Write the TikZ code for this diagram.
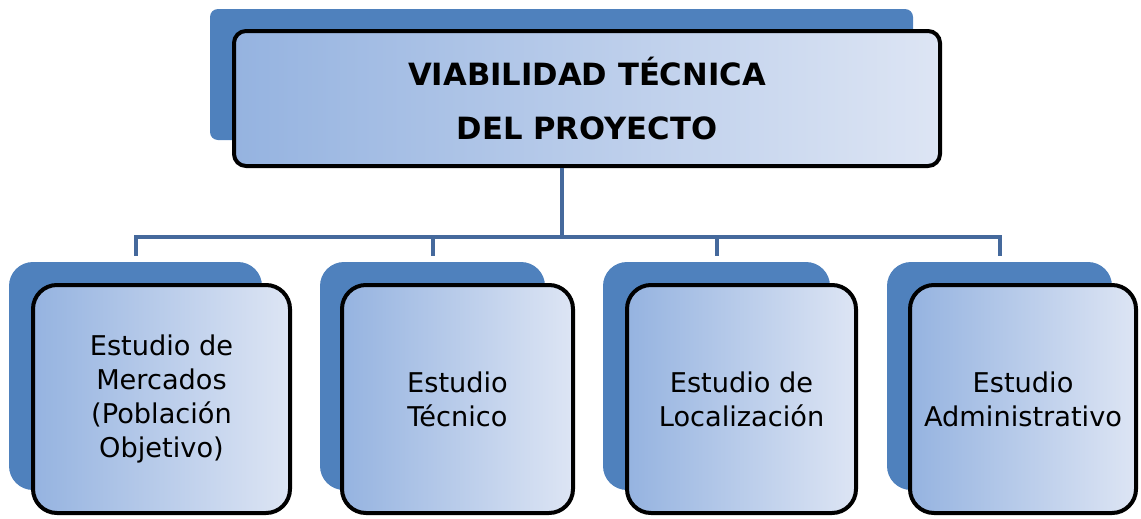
\documentclass[tikz,border=0pt]{standalone}
\usepackage{fontspec}
\setmainfont{DejaVu Sans}
\usetikzlibrary{calc}
\definecolor{sombra}{HTML}{4F81BD}
\definecolor{oscuro}{HTML}{95B3E0}
\definecolor{claro}{HTML}{DDE5F4}
\definecolor{enlace}{HTML}{45699C}
\tikzset{
	sombrabox/.style={fill=sombra, inner sep=0pt, rounded corners=18pt, minimum height=228*0.75pt},
	frentebox/.style={draw=black, line width=3pt, left color=oscuro, right color=claro, rounded corners=18pt,
		inner sep=0pt, align=center, minimum height=228*0.75pt, font=\fontsize{20.4}{25.5}\selectfont},
	link/.style={draw=enlace, line width=3pt}
}
\newcommand{\estudio}[6]{
	\node[sombrabox, minimum width=#3*0.75pt] (s-#1) at (#2,376) {};
	\node[frentebox, minimum width=#5*0.75pt] (#1) at (#4,399) {#6};
}

\begin{document}
\begin{tikzpicture}[x=0.75pt,y=-0.75pt]
	\useasboundingbox (0,0) rectangle (1141,518);
	\coordinate (bar) at (0,237);

	\node[sombrabox, rounded corners=6pt, minimum width=703*0.75pt, minimum height=131*0.75pt] (s-vt) at (561.5,74.5) {};
	\node[frentebox, rounded corners=9pt, minimum width=706*0.75pt, minimum height=135*0.75pt,
		font=\bfseries\fontsize{23}{40.5}\selectfont] (vt) at (587,98.5) {VIABILIDAD TÉCNICA\\DEL PROYECTO};

	\estudio{merc}{135.5}{253}{161.5}{257}{Estudio de\\Mercados\\(Población\\Objetivo)}
	\estudio{tec}{432.5}{225}{457.5}{231}{Estudio\\Técnico}
	\estudio{loc}{716.5}{227}{741.5}{229}{Estudio de\\Localización}
	\estudio{admin}{999.5}{225}{1023}{226}{Estudio\\Administrativo}

	\draw[link] (s-vt.south |- vt.south) -- (s-vt.south |- bar);
	\draw[link, shorten <=4.5pt, shorten >=4.5pt] (s-merc.north) -- (s-merc.north |- bar)
		-- (s-admin.north |- bar) -- (s-admin.north);
	\foreach \n in {tec,loc}
		\draw[link, shorten >=4.5pt] (s-\n.north |- bar) -- (s-\n.north);
\end{tikzpicture}
\end{document}
